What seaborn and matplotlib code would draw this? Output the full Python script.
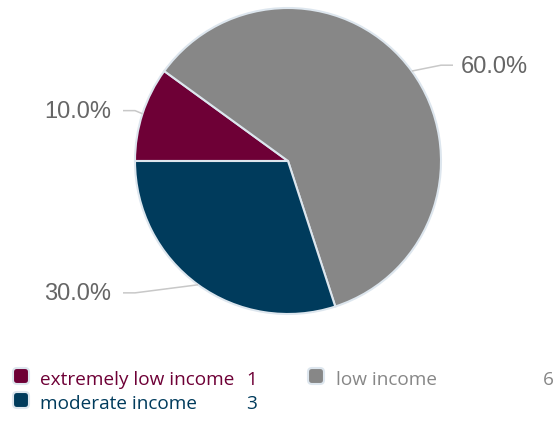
import numpy as np
import matplotlib
matplotlib.use("Agg")
import matplotlib.pyplot as plt
from matplotlib.patches import FancyBboxPatch
import seaborn as sns

categories = ["extremely low income", "low income", "moderate income"]
counts = [1, 6, 3]
colors = ["#6e0036", "#878787", "#003b5c"]

sns.set_theme(style="white")
plt.rcParams['font.family'] = ['Liberation Sans', 'DejaVu Sans']

W, H = 555, 440
fig = plt.figure(figsize=(W / 100, H / 100), dpi=100)
ax = fig.add_axes([0, 0, 1, 1])

cx, cy, r = 288, H - 161, 153
wedges, _ = ax.pie(counts, colors=colors, startangle=180, counterclock=False,
                   center=(cx, cy), radius=r,
                   wedgeprops=dict(edgecolor="#dde6ee", linewidth=1.5))
ax.set_xlim(0, W)
ax.set_ylim(0, H)
ax.set_aspect("equal")
ax.axis("off")

total = sum(counts)
for w, c in zip(wedges, counts):
    mid = np.deg2rad((w.theta1 + w.theta2) / 2)
    cs, sn = np.cos(mid), np.sin(mid)
    side = 1 if cs >= 0 else -1
    ex, ey = cx + r * cs, cy + r * sn
    ly = cy + (r + 10) * sn
    x_end = cx + side * (r + 12)
    knee = x_end - side * 12
    ax.plot([ex, knee, x_end], [ey, ly, ly], color="#c8c8c8", lw=1.1,
            solid_capstyle="butt", zorder=1)
    ax.text(x_end + side * (8 if side > 0 else 12), ly - 7.5,
            f"{100 * c / total:.1f}%",
            ha="left" if side > 0 else "right", va="baseline",
            fontsize=17, color="#666666")

# legend
legend_pos = [(12, 40, 246, "left", 385), (307, 336, 554, "right", 385),
              (12, 40, 246, "left", 409)]
for (mx, tx, vx, vha, base), name, c, col in zip(legend_pos, categories, counts, colors):
    yb = H - base
    box = FancyBboxPatch((mx + 1, yb + 1), 16, 16,
                         boxstyle="round,pad=0,rounding_size=4",
                         facecolor=col, edgecolor="#dde6ee", linewidth=1.5)
    ax.add_patch(box)
    ax.text(tx, yb, name, ha="left", va="baseline", fontsize=13.7,
            color=col, family=["Open Sans", "DejaVu Sans"])
    ax.text(vx, yb, str(c), ha=vha, va="baseline", fontsize=13.7,
            color=col, family=["Open Sans", "DejaVu Sans"])

fig.savefig("out.png", dpi=100)
